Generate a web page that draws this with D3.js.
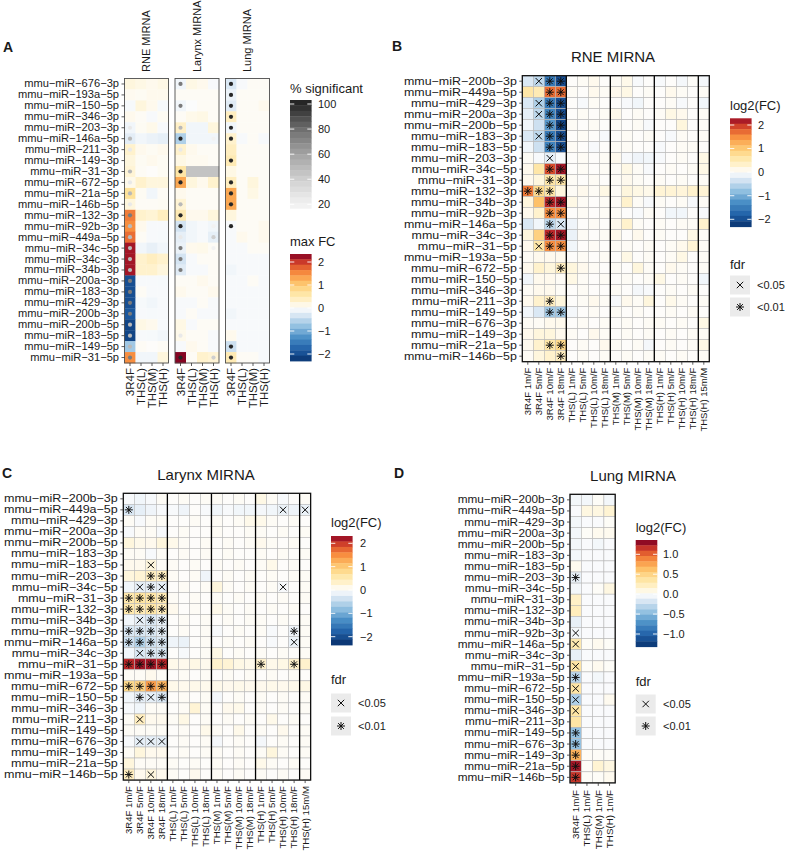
<!DOCTYPE html>
<html><head><meta charset="utf-8">
<script src="https://cdn.jsdelivr.net/npm/d3@7"></script>
<style>body{margin:0;background:#fff} svg{display:block}</style>
</head><body><svg id="c" width="787" height="857"></svg>
<script>
const FF = '"Liberation Sans", Arial, Helvetica, sans-serif';

// ---------------- DATA ----------------
const rowsA = ["mmu-miR-676-3p","mmu-miR-193a-5p","mmu-miR-150-5p","mmu-miR-346-3p","mmu-miR-203-3p","mmu-miR-146a-5p","mmu-miR-211-3p","mmu-miR-149-3p","mmu-miR-31-3p","mmu-miR-672-5p","mmu-miR-21a-5p","mmu-miR-146b-5p","mmu-miR-132-3p","mmu-miR-92b-3p","mmu-miR-449a-5p","mmu-miR-34c-5p","mmu-miR-34c-3p","mmu-miR-34b-3p","mmu-miR-200a-3p","mmu-miR-183-3p","mmu-miR-429-3p","mmu-miR-200b-3p","mmu-miR-200b-5p","mmu-miR-183-5p","mmu-miR-149-5p","mmu-miR-31-5p"];
const colsA = ["3R4F","THS(L)","THS(M)","THS(H)"];
const stripsA = ["RNE MIRNA","Larynx MIRNA","Lung MIRNA"];

const maxFcRNE = [
[0.2,0.15,0.1,0.15],[0.08,0.06,0.1,0.1],[-0.06,0.2,0.1,-0.06],[0.1,0.05,-0.05,0.06],
[-0.1,0.06,0.12,-0.05],[-0.22,-0.1,-0.15,-0.2],[0.3,0.1,0.06,0.1],[0.2,0.06,0.1,0.06],
[0.25,0.05,0.02,0.06],[0.12,0.3,0.2,0.2],[0.7,0.06,-0.1,0.05],[0.2,0.05,0.05,0.06],
[1.6,0.3,0.25,0.4],[1.5,0.1,-0.05,-0.05],[1.7,0.05,-0.05,-0.06],[2.2,-0.1,-0.18,-0.1],
[2.2,0.3,0.4,0.3],[2.2,0.3,0.3,0.2],[-2.0,-0.05,-0.05,-0.06],[-2.0,0.05,-0.05,-0.05],
[-2.0,-0.06,-0.1,-0.05],[-1.9,-0.05,-0.06,-0.05],[-2.1,0.15,0.1,-0.05],[-2.1,-0.05,-0.06,-0.1],
[-0.7,0.05,0.02,0.05],[1.5,-0.1,-0.1,0.2]];
const maxFcLarynx = [
[-0.1,0.15,0.1,-0.05],[0.05,0.05,0.05,0.05],[-0.1,-0.02,0.05,0.05],[0.05,0.12,0.15,0.05],
[0.35,-0.1,-0.1,0.2],[-0.6,-0.1,-0.1,-0.1],[0.3,0.1,0.05,0.05],[0.15,0.08,0.08,0.05],
[0.6,null,null,null],[1.3,0.2,0.1,0.3],[0.1,0.05,0.05,0.05],[0.25,0.05,0.05,0.05],
[0.5,0.1,0.1,0.2],[-0.35,-0.1,-0.05,-0.1],[-0.2,-0.1,-0.05,-0.2],[-0.15,0.1,0.12,0.05],
[-0.35,-0.05,0.05,0.05],[-0.25,-0.05,-0.05,0.05],[0.05,0.05,0.1,0.05],[0.1,0.05,0.05,0.1],
[-0.05,-0.05,0.05,-0.05],[-0.05,0.05,-0.05,-0.05],[0.15,-0.05,0.05,0.05],[0.12,0.05,0.05,-0.05],
[-0.05,0.1,0.05,-0.05],[2.3,0.05,0.3,0.25]];
const maxFcLung = [
[-0.3,-0.05,0.05,0.05],[-0.15,0.05,0.05,0.05],[-0.25,0.05,0.05,0.1],[0.4,0.05,0.05,0.05],
[-0.1,0.05,0.05,0.05],[0.3,-0.05,0.05,-0.05],[0.4,0.05,0.05,0.05],[0.5,0.05,0.05,0.05],
[0.15,0.05,0.05,0.05],[0.4,0.05,0.2,0.05],[1.3,0.05,0.15,0.05],[1.3,0.05,0.05,0.05],
[0.2,0.05,0.05,0.05],[-0.05,0.05,0.05,0.1],[-0.05,0.1,0.05,0.1],[-0.05,-0.05,0.05,0.05],
[-0.05,-0.05,-0.05,-0.05],[-0.1,-0.05,-0.05,-0.05],[-0.05,-0.05,0.05,-0.05],[-0.05,-0.05,-0.05,-0.05],
[-0.05,-0.05,-0.05,-0.05],[-0.1,-0.05,-0.05,-0.05],[-0.05,-0.05,-0.05,-0.05],[0.1,-0.05,-0.05,-0.05],
[-0.4,-0.05,-0.05,-0.05],[0.5,0.05,0.05,-0.05]];

const rowsBCD = ["mmu-miR-200b-3p","mmu-miR-449a-5p","mmu-miR-429-3p","mmu-miR-200a-3p","mmu-miR-200b-5p","mmu-miR-183-3p","mmu-miR-183-5p","mmu-miR-203-3p","mmu-miR-34c-5p","mmu-miR-31-3p","mmu-miR-132-3p","mmu-miR-34b-3p","mmu-miR-92b-3p","mmu-miR-146a-5p","mmu-miR-34c-3p","mmu-miR-31-5p","mmu-miR-193a-5p","mmu-miR-672-5p","mmu-miR-150-5p","mmu-miR-346-3p","mmu-miR-211-3p","mmu-miR-149-5p","mmu-miR-676-3p","mmu-miR-149-3p","mmu-miR-21a-5p","mmu-miR-146b-5p"];
const colsBC = ["3R4F 1m/F","3R4F 5m/F","3R4F 10m/F","3R4F 18m/F","THS(L) 1m/F","THS(L) 5m/F","THS(L) 10m/F","THS(L) 18m/F","THS(M) 1m/F","THS(M) 5m/F","THS(M) 10m/F","THS(M) 18m/F","THS(H) 1m/F","THS(H) 5m/F","THS(H) 10m/F","THS(H) 18m/F","THS(H) 15m/M"];
const colsD = ["3R4F 1m/F","THS(L) 1m/F","THS(M) 1m/F","THS(H) 1m/F"];

const fcRNE = [
[-0.3,-0.5,-1.5,-2.0, 0.02,0.05,0.1,0.02, 0.05,0.12,-0.05,0.02, -0.05,0.02,-0.08,0.03,-0.08],
[0.6,0.5,1.7,1.7, 0.05,0.02,0.1,0.05, 0.1,0.15,0.02,0.05, 0.02,0.1,0.05,0.02,0.05],
[-0.3,-0.6,-1.5,-2.0, 0.02,-0.05,0.05,0.02, 0.02,-0.05,-0.1,0.02, 0.02,0.05,-0.05,0.02,-0.1],
[-0.2,-0.5,-1.4,-2.0, 0.02,0.05,0.02,0.05, 0.12,0.02,0.05,0.02, 0.05,0.15,0.1,0.02,0.05],
[-0.1,-0.4,-1.2,-2.1, 0.05,0.02,0.05,0.02, 0.05,0.02,0.05,-0.05, 0.02,0.02,0.2,0.02,0.05],
[-0.3,-0.5,-1.5,-2.0, 0.02,0.05,0.02,-0.05, 0.02,0.05,0.02,0.05, 0.02,-0.05,0.05,0.02,0.05],
[-0.1,-0.4,-1.4,-2.0, 0.05,0.02,-0.05,0.02, 0.05,0.05,0.02,0.02, -0.05,0.02,0.05,0.05,0.02],
[0.05,-0.05,-0.2,-0.05, 0.02,0.05,0.02,0.05, 0.1,-0.05,-0.12,-0.1, -0.05,0.02,0.05,0.02,0.15],
[0.1,0.6,1.9,2.2, 0.02,0.05,0.02,0.05, 0.05,0.15,0.05,-0.05, 0.02,0.05,0.02,0.05,0.15],
[0.1,0.2,0.6,0.6, 0.05,0.02,0.05,0.02, 0.05,0.1,0.05,0.02, 0.05,0.02,0.05,0.02,0.05],
[1.6,0.8,0.6,0.2, 0.05,0.1,0.05,0.15, 0.05,0.2,0.15,0.12, 0.25,0.25,0.22,0.3,0.25],
[0.2,1.1,2.1,2.2, 0.15,0.05,0.02,0.05, 0.05,0.3,0.05,-0.05, 0.05,0.02,0.05,-0.05,0.05],
[0.1,0.3,1.5,1.5, 0.02,0.05,0.02,0.05, 0.05,0.02,-0.05,0.05, 0.02,-0.1,-0.1,0.02,-0.05],
[-0.3,-0.1,-0.5,-0.3, -0.12,0.02,0.05,0.02, 0.1,0.3,0.05,0.02, 0.05,0.02,0.05,0.05,0.3],
[0.2,0.9,2.1,2.2, -0.15,0.05,0.02,0.05, 0.12,0.02,0.1,0.02, 0.05,0.02,0.02,0.15,0.05],
[0.1,0.6,1.5,1.5, -0.1,0.02,0.05,0.02, 0.05,0.05,0.02,0.05, 0.02,0.05,0.1,0.25,0.05],
[0.05,0.1,0.1,0.1, 0.02,0.05,0.02,0.05, 0.02,0.15,0.02,0.05, 0.02,0.05,0.15,0.02,0.05],
[0.1,0.3,0.2,0.4, 0.2,0.1,0.05,0.02, 0.05,0.02,0.2,0.05, 0.02,0.1,0.05,0.02,0.05],
[-0.1,0.1,0.1,0.05, 0.15,0.05,0.02,0.05, 0.02,0.05,0.02,0.05, 0.15,0.02,0.05,0.02,-0.1],
[0.05,0.1,0.1,0.05, 0.02,0.05,0.02,0.02, 0.05,0.02,-0.08,-0.05, 0.02,0.05,0.02,0.05,0.02],
[0.1,0.3,0.4,0.2, 0.02,0.05,0.1,0.05, -0.05,0.1,0.05,0.2, 0.02,0.12,0.05,0.02,0.05],
[-0.1,-0.3,-0.7,-0.7, -0.08,0.02,0.05,0.02, 0.05,0.02,0.05,0.02, 0.02,0.05,0.02,0.05,0.02],
[0.05,0.05,0.1,0.1, 0.02,0.05,0.02,0.05, 0.02,0.05,0.02,0.05, 0.05,0.02,0.05,0.02,0.15],
[0.1,0.2,0.2,0.1, 0.05,0.02,0.1,0.05, 0.02,0.05,0.02,0.05, 0.02,0.05,0.02,0.05,0.05],
[0.1,0.3,0.6,0.8, 0.02,0.05,0.02,0.1, 0.05,0.02,0.05,-0.08, 0.02,0.05,0.02,0.05,0.15],
[0.05,0.2,0.3,0.4, 0.02,0.05,0.02,0.05, 0.02,0.05,0.02,0.05, 0.05,0.02,0.05,0.02,0.05]];
const fdrRNE = [".x**.............","..**.............",".x**.............",".x**.............","..**.............",".x**.............","..**.............","..x..............","..**.............","..**.............","***..............","..**.............","..**.............","..*x.............","..**.............",".x**.............",".................","...*.............",".................",".................","..*..............","..**.............",".................",".................","..**.............","...*............."];

const fcLarynx = [
[-0.05,-0.1,-0.05,0.05, 0.02,0.05,0.02,0.05, 0.05,0.02,0.05,0.02, 0.15,0.05,-0.05,0.02,0.05],
[-0.3,-0.2,-0.12,-0.05, -0.05,-0.12,0.02,-0.05, -0.1,-0.05,-0.1,-0.1, -0.08,-0.1,-0.15,-0.12,-0.15],
[0.05,-0.05,0.05,0.05, 0.02,0.02,0.05,0.02, 0.05,0.02,0.05,0.12, 0.12,0.05,0.02,0.05,0.02],
[-0.05,0.05,0.05,-0.05, 0.02,0.05,0.02,0.02, 0.05,0.02,0.02,0.05, 0.05,0.02,0.05,0.02,0.05],
[0.2,0.12,0.1,0.2, 0.12,0.05,0.02,0.05, 0.02,0.05,0.02,0.05, 0.1,0.05,0.02,0.05,0.02],
[0.05,0.05,-0.05,0.05, 0.02,0.05,0.02,0.05, 0.02,0.05,0.02,0.02, 0.05,0.02,0.05,0.02,0.05],
[0.1,0.1,0.2,0.05, 0.05,0.02,0.05,0.02, 0.05,0.02,0.05,0.02, 0.05,0.12,0.02,0.05,0.02],
[0.2,0.25,0.4,0.4, 0.05,0.02,0.05,-0.12, 0.02,0.05,0.02,0.05, 0.02,0.05,0.02,0.05,0.05],
[-0.1,-0.2,-0.2,-0.2, 0.02,0.05,0.02,0.05, 0.2,0.05,0.02,0.05, 0.02,0.05,-0.05,0.02,0.05],
[0.55,0.65,0.6,0.5, 0.05,0.02,0.05,0.02, 0.05,0.02,0.05,0.02, 0.05,0.02,0.05,0.02,0.05],
[0.55,0.5,0.6,0.45, 0.1,0.02,0.05,0.02, 0.12,0.05,0.02,0.05, 0.02,0.05,0.02,0.05,0.02],
[-0.1,-0.2,-0.3,-0.2, 0.02,0.05,0.02,0.05, 0.02,0.05,0.02,0.05, 0.05,0.02,0.05,0.02,0.05],
[-0.3,-0.3,-0.3,-0.2, 0.02,0.05,0.02,0.05, -0.05,0.02,0.05,0.02, 0.05,-0.05,0.02,-0.12,0.05],
[-0.4,-0.6,-0.4,-0.3, -0.12,-0.15,0.02,0.05, 0.02,0.05,0.02,0.05, 0.02,-0.05,0.02,-0.15,0.05],
[-0.1,-0.3,-0.3,-0.3, 0.02,-0.05,0.02,0.05, 0.15,0.02,0.05,0.02, 0.05,0.02,0.05,0.02,0.05],
[2.1,2.2,2.2,2.1, 0.12,0.1,0.15,0.1, 0.3,0.25,0.15,0.12, 0.3,0.12,0.15,0.3,0.3],
[0.05,0.05,0.1,0.05, 0.02,0.05,0.02,0.05, 0.02,0.05,0.02,0.05, 0.02,0.05,0.02,0.05,0.02],
[0.8,0.9,1.4,1.2, 0.12,0.1,0.12,0.1, 0.12,0.1,0.12,0.1, 0.1,0.12,0.1,0.12,0.15],
[-0.1,-0.2,-0.2,-0.3, 0.02,0.05,0.02,0.05, -0.08,0.02,0.05,0.02, 0.05,0.02,0.05,0.02,0.05],
[-0.05,-0.1,0.05,0.05, 0.02,0.05,0.25,0.05, 0.02,0.1,0.12,0.02, 0.05,0.02,0.05,0.02,0.05],
[0.05,0.4,0.1,0.1, 0.05,0.15,0.02,0.05, 0.02,0.05,0.02,0.05, 0.02,0.12,0.02,0.05,0.02],
[0.05,0.05,0.05,0.05, 0.02,0.05,0.02,0.12, 0.05,0.02,0.12,0.02, 0.05,0.02,0.1,0.02,0.05],
[-0.05,-0.2,-0.2,-0.2, 0.02,0.05,0.02,0.05, -0.08,0.02,0.05,0.02, -0.08,0.02,0.05,0.02,0.05],
[0.05,0.2,0.1,0.1, 0.02,0.05,0.02,0.05, 0.05,0.02,0.05,0.02, 0.05,0.2,0.05,0.02,0.05],
[0.2,0.05,0.05,0.05, 0.05,0.02,0.05,0.02, 0.05,0.02,0.05,0.02, 0.12,0.05,0.02,0.05,0.02],
[0.4,0.1,0.2,0.1, 0.05,0.02,0.1,0.02, 0.05,0.02,0.05,0.02, 0.05,0.02,0.05,0.02,0.05]];
const fdrLarynx = [".................","*.............x.x",".................",".................",".................",".................","..x..............","..**.............",".x*x..........x..","****.............","****.............",".x**.............","****...........*.","****...........x.",".x**.............","****........*..*.",".................","****.............",".*x*.............",".................",".x...............",".................",".xxx.............",".................",".................","*.x.............."];

const fcLung = [
[-0.05,-0.05,0.02,-0.05],[-0.02,0.1,0.1,0.15],[-0.05,-0.02,-0.02,0.02],[-0.05,0.02,0.05,0.05],
[-0.05,-0.02,-0.05,-0.02],[-0.05,-0.02,-0.02,-0.02],[0.05,-0.02,-0.02,-0.02],[-0.1,-0.02,-0.02,-0.02],
[-0.05,-0.02,0.02,0.1],[0.2,-0.02,-0.02,-0.02],[0.25,-0.02,-0.02,-0.02],[-0.1,-0.02,-0.02,-0.02],
[-0.05,-0.02,-0.02,-0.02],[0.3,0.02,0.05,0.02],[-0.1,-0.02,-0.02,-0.02],[0.35,0.02,0.05,0.02],
[-0.3,-0.02,-0.05,-0.02],[0.35,-0.02,-0.02,-0.02],[-0.35,-0.02,-0.02,0.05],[0.35,-0.02,-0.02,-0.02],
[0.35,-0.02,-0.02,-0.02],[-0.45,-0.02,-0.02,-0.02],[-0.45,-0.02,-0.02,-0.02],[0.7,0.02,0.02,0.02],
[1.25,0.02,0.15,0.1],[1.15,0.02,0.02,0.05]];
const fdrLung = ["....","....","....","....","....","....","....","*...","....","....","....","....","x...","x...","....","x...","*...","x...","x...","x...","....","*...","*...","*...","*...","*..."];

const ticksFC = [-2,-1,0,1,2];
const ticksFCLung = [-1,-0.5,0,0.5,1];
const ticksSig = [20,40,60,80,100];
const fdrLevels = ["<0.05","<0.01"];

// ---------------- HELPERS ----------------
const svg = d3.select("#c");
const minus = s => String(s).replace(/-/g, "\u2212");
const palStops = [[-1,"#08306b"],[-0.78,"#1f5fa6"],[-0.55,"#4a8fc6"],[-0.35,"#90bfe0"],[-0.15,"#d4e4f2"],[0,"#fdfdfd"],[0.12,"#fff3d0"],[0.3,"#fee29a"],[0.48,"#fdbf66"],[0.64,"#f88f40"],[0.8,"#dd522b"],[0.91,"#b82329"],[1,"#7d0022"]];
function makeFill(max){
  return d3.scaleLinear().domain(palStops.map(s=>s[0]*max)).range(palStops.map(s=>s[1])).interpolate(d3.interpolateRgb).clamp(true);
}
const graySig = d3.scaleLinear().domain([20,40,60,80,100]).range(["#f2f2f2","#cfcfcf","#a3a3a3","#6e6e6e","#262626"]).clamp(true);
const crossPath = "M-3.2,-3.2L3.2,3.2M-3.2,3.2L3.2,-3.2";
const starPath = "M0,-4L0,4M-4,0L4,0M-2.9,-2.9L2.9,2.9M-2.9,2.9L2.9,-2.9";

function styleAxis(sel, fs){
  sel.attr("font-size", fs).attr("font-family", FF);
  sel.select(".domain").remove();
  sel.selectAll(".tick line").attr("stroke","#333").attr("stroke-width",0.8);
  sel.selectAll("text").attr("fill","#1a1a1a").style("font-size",fs+"px").style("font-family",FF);
}
function stretchY(sel, sx, off){
  sel.selectAll("text").attr("transform",`scale(${sx},1)`).attr("x", -off/sx);
}
function txt(x,y,s,fs,opts={}){
  const t = svg.append("text").attr("x",x).attr("y",y).text(s)
    .style("font-family",FF).style("font-size",fs+"px").attr("fill",opts.fill||"#1a1a1a");
  if(opts.anchor) t.attr("text-anchor",opts.anchor);
  if(opts.bold) t.style("font-weight","bold");
  return t;
}
function colorbar(x, yTop, yBot, vScale, fill, ticks, fmt, labX){
  const nb = 20, w = 21.6, h = (yBot-yTop)/nb;
  const g = svg.append("g");
  for(let i=0;i<nb;i++){
    const y = yTop + i*h;
    g.append("rect").attr("x",x).attr("y",y).attr("width",w).attr("height",h+0.4)
      .attr("fill", fill(vScale.invert(y+h/2)));
  }
  ticks.forEach(t=>{
    const yy = vScale(t);
    g.append("line").attr("x1",x).attr("x2",x+4.3).attr("y1",yy).attr("y2",yy).attr("stroke","#fff").attr("stroke-width",0.9);
    g.append("line").attr("x1",x+w-4.3).attr("x2",x+w).attr("y1",yy).attr("y2",yy).attr("stroke","#fff").attr("stroke-width",0.9);
    txt(labX, yy, fmt(t), 11).attr("dy","0.35em");
  });
}
function fdrLegend(x, titleY, c1, c2, labX){
  txt(x, titleY, "fdr", 13);
  [c1,c2].forEach((cy,i)=>{
    svg.append("rect").attr("x",x).attr("y",cy-9.5).attr("width",20).attr("height",19).attr("fill","#ebebeb");
    svg.append("path").attr("d", i===0?crossPath:starPath).attr("transform",`translate(${x+10},${cy})`)
      .attr("stroke","#111").attr("stroke-width",1).attr("fill","none");
    txt(labX, cy, fdrLevels[i], 11).attr("dy","0.35em");
  });
}

// ---------------- PANEL A ----------------
txt(3, 52, "A", 14, {bold:true});
const yA = d3.scaleBand().domain(rowsA).range([78.5, 363]);
const fillA = makeFill(2.33);
const aData = [maxFcRNE, maxFcLarynx, maxFcLung];
const aFdr = [fdrRNE, fdrLarynx, fdrLung];
const aGroups = [[[0,4],[4,8],[8,12],[12,17]], [[0,4],[4,8],[8,12],[12,17]], [[0,1],[1,2],[2,3],[3,4]]];
const aX0 = [124.5, 175, 225.5];
aData.forEach((data, p)=>{
  const xA = d3.scaleBand().domain(colsA).range([aX0[p], aX0[p]+44]);
  const g = svg.append("g");
  rowsA.forEach((r,i)=>colsA.forEach((c,j)=>{
    const v = data[i][j];
    g.append("rect").attr("x",xA(c)).attr("y",yA(r)).attr("width",xA.bandwidth()+0.3).attr("height",yA.bandwidth()+0.3)
      .attr("fill", v==null ? "#c3c3c3" : fillA(v));
  }));
  rowsA.forEach((r)=>{
    const k = rowsBCD.indexOf(r);
    const m = aFdr[p][k];
    aGroups[p].forEach((gr,j)=>{
      let n=0; for(let q=gr[0];q<gr[1];q++) if(m[q]!=='.') n++;
      const pct = n/(gr[1]-gr[0])*100;
      if(pct>0) g.append("circle").attr("cx",xA(colsA[j])+xA.bandwidth()/2).attr("cy",yA(r)+yA.bandwidth()/2)
        .attr("r",2.1).attr("fill",graySig(pct));
    });
  });
  g.append("rect").attr("x",aX0[p]).attr("y",78.5).attr("width",44).attr("height",363-78.5)
    .attr("fill","none").attr("stroke","#4d4d4d").attr("stroke-width",0.9);
  svg.append("text").attr("transform",`translate(${aX0[p]+22},72) rotate(-90)`).attr("dy","0.35em")
    .text(stripsA[p]).style("font-family",FF).style("font-size","11px").attr("fill","#1a1a1a");
  const ax = svg.append("g").attr("transform","translate(0,363)").call(d3.axisBottom(xA).tickSize(3).tickPadding(2));
  styleAxis(ax, 11.5);
  ax.selectAll("text").attr("transform","rotate(-90)").attr("x",-5).attr("y",0).attr("dy","0.35em").attr("text-anchor","end");
  if(p===0){
    const ay = svg.append("g").attr("transform",`translate(${aX0[0]},0)`).call(d3.axisLeft(yA).tickSize(3).tickPadding(2.5).tickFormat(minus));
    styleAxis(ay, 10.8);
    stretchY(ay, 1.03, 5.5);
  }
});
txt(290, 92.5, "% significant", 13);
const ySig = d3.scaleLinear().domain([20,100]).range([204.3,104]);
colorbar(290, 100, 208.3, ySig, graySig, ticksSig, d=>d, 318);
txt(290, 246, "max FC", 13);
const yMaxFC = d3.scaleLinear().domain([-2,2]).range([354,262]);
colorbar(290, 254, 361, yMaxFC, fillA, ticksFC, minus, 318);

// ---------------- HEATMAP PANELS ----------------
function heatPanel(cfg){
  const x = d3.scaleBand().domain(cfg.cols).range([cfg.x0, cfg.x0 + cfg.cw*cfg.cols.length]);
  const y = d3.scaleBand().domain(rowsBCD).range([cfg.y0, cfg.y0 + cfg.rh*rowsBCD.length]);
  const fill = makeFill(cfg.max);
  const g = svg.append("g");
  rowsBCD.forEach((r,i)=>cfg.cols.forEach((c,j)=>{
    g.append("rect").attr("x",x(c)).attr("y",y(r)).attr("width",x.bandwidth()).attr("height",y.bandwidth())
      .attr("fill",fill(cfg.fc[i][j])).attr("stroke","#b8b8b8").attr("stroke-width",0.6);
  }));
  rowsBCD.forEach((r,i)=>{
    [...cfg.fdr[i]].forEach((m,j)=>{
      if(m==='.') return;
      g.append("path").attr("d", m==='x'?crossPath:starPath)
        .attr("transform",`translate(${x(cfg.cols[j])+x.bandwidth()/2},${y(r)+y.bandwidth()/2})`)
        .attr("stroke","#111").attr("stroke-width",1).attr("fill","none");
    });
  });
  const [y0,y1] = y.range(), [x0,x1] = x.range();
  (cfg.seps||[]).forEach(k=>{
    g.append("line").attr("x1",x(cfg.cols[k])).attr("x2",x(cfg.cols[k])).attr("y1",y0).attr("y2",y1)
      .attr("stroke","#000").attr("stroke-width",1.3);
  });
  g.append("rect").attr("x",x0).attr("y",y0).attr("width",x1-x0).attr("height",y1-y0)
    .attr("fill","none").attr("stroke","#111").attr("stroke-width",1.3);
  const ay = svg.append("g").attr("transform",`translate(${x0},0)`).call(d3.axisLeft(y).tickSize(3).tickPadding(2.5).tickFormat(minus));
  styleAxis(ay, cfg.yfs);
  stretchY(ay, cfg.ysx, 5.5);
  const ax = svg.append("g").attr("transform",`translate(0,${y1})`).call(d3.axisBottom(x).tickSize(3).tickPadding(2));
  styleAxis(ax, cfg.xfs);
  ax.selectAll("text").attr("transform","rotate(-90)").attr("x",-cfg.labOff).attr("y",0).attr("dy","0.35em").attr("text-anchor","end");
  return fill;
}

// B
txt(392, 51, "B", 14, {bold:true});
txt(613, 62, "RNE MIRNA", 15, {anchor:"middle"});
const fillB = heatPanel({cols:colsBC, x0:522.3, y0:75.7, cw:11, rh:11, fc:fcRNE, fdr:fdrRNE, max:2.33, seps:[4,8,12,16], labOff:6, yfs:10.9, ysx:1.14, xfs:9.5});
txt(730, 110, "log2(FC)", 13);
colorbar(730, 118.3, 226.7, d3.scaleLinear().domain([-2,2]).range([219.3,125]), fillB, ticksFC, minus, 758);
fdrLegend(730, 269, 285, 307, 757);

// C
txt(2, 478, "C", 14, {bold:true});
txt(206, 480, "Larynx MIRNA", 15, {anchor:"middle"});
const fillC = heatPanel({cols:colsBC, x0:123.3, y0:493.3, cw:11.02, rh:11.03, fc:fcLarynx, fdr:fdrLarynx, max:2.33, seps:[4,8,12,16], labOff:6, yfs:10.9, ysx:1.15, xfs:9.6});
txt(331, 527, "log2(FC)", 13);
colorbar(331, 536, 645, d3.scaleLinear().domain([-2,2]).range([636.7,543.3]), fillC, ticksFC, minus, 360);
fdrLegend(331, 684, 703, 726, 358);

// D
txt(394, 478, "D", 14, {bold:true});
txt(633, 481, "Lung MIRNA", 15, {anchor:"middle"});
const fillD = heatPanel({cols:colsD, x0:570, y0:494.3, cw:11.3, rh:11.1, fc:fcLung, fdr:fdrLung, max:1.33, seps:[], labOff:7, yfs:10.9, ysx:1.08, xfs:9.8});
txt(635.7, 532, "log2(FC)", 13);
colorbar(635.7, 540, 646.7, d3.scaleLinear().domain([-1,1]).range([634,554.3]), fillD, ticksFCLung, d=>minus(d3.format(".1f")(d)), 663);
fdrLegend(635.7, 686, 704, 726, 663);
</script></body></html>
